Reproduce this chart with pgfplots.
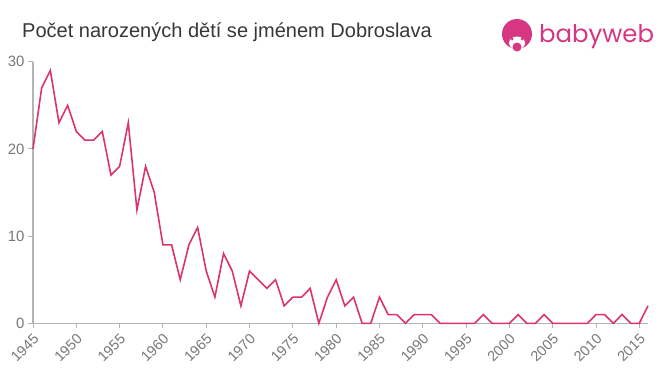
\documentclass[border=0pt]{standalone}
\usepackage{pgfplots}
\pgfplotsset{compat=1.18}
\usepackage{fontspec}
\setmainfont{Liberation Sans}
\newfontfamily\logofont{Poppins}
\definecolor{linec}{RGB}{221,52,104}
\definecolor{logoc}{RGB}{214,54,130}
\definecolor{tickc}{RGB}{120,120,120}
\definecolor{axc}{RGB}{180,180,180}
\definecolor{titc}{RGB}{55,55,55}
\pgfplotstableread{
year val
1945 20
1946 27
1947 29
1948 23
1949 25
1950 22
1951 21
1952 21
1953 22
1954 17
1955 18
1956 23
1957 13
1958 18
1959 15
1960 9
1961 9
1962 5
1963 9
1964 11
1965 6
1966 3
1967 8
1968 6
1969 2
1970 6
1971 5
1972 4
1973 5
1974 2
1975 3
1976 3
1977 4
1978 0
1979 3
1980 5
1981 2
1982 3
1983 0
1984 0
1985 3
1986 1
1987 1
1988 0
1989 1
1990 1
1991 1
1992 0
1993 0
1994 0
1995 0
1996 0
1997 1
1998 0
1999 0
2000 0
2001 1
2002 0
2003 0
2004 1
2005 0
2006 0
2007 0
2008 0
2009 0
2010 1
2011 1
2012 0
2013 1
2014 0
2015 0
2016 2
}\datatab
\begin{document}
\begin{tikzpicture}[x=1bp,y=1bp]
\path[use as bounding box] (0,0) rectangle (660,375);
\node[anchor=base west, text=titc, font=\fontsize{20.1}{22}\selectfont, inner sep=0pt] at (22,338) {Počet narozených dětí se jménem Dobroslava};
% logo
\fill[logoc] (517,341) circle (15);
\fill[white] (517,332) ellipse (8 and 6.5);
\fill[logoc] (517,328) circle (4.5);
\fill[logoc] (512,336) circle (1.5);
\fill[logoc] (522,336) circle (1.5);
\node[anchor=base west, text=logoc, font=\logofont\fontsize{24.5}{28}\selectfont, inner sep=0pt] at (539,332.5) {babyweb};
\begin{axis}[
  at={(33bp,51.7bp)}, anchor=south west,
  scale only axis, width=615bp, height=261.6bp,
  xmin=1945, xmax=2016, ymin=0, ymax=30,
  axis x line*=bottom, axis y line*=left,
  axis line style={axc, line width=1.2pt},
  every outer x axis line/.append style={-}, every outer y axis line/.append style={-},
  xtick={1945,1950,...,2015}, ytick={0,10,20,30},
  tick style={axc, line width=1pt},
  tick align=outside, major tick length=5bp,
  x tick label style={rotate=45, anchor=east, font=\fontsize{14.5}{16}\selectfont, text=tickc, xshift=0bp, yshift=-8bp},
  y tick label style={font=\fontsize{15}{16}\selectfont, text=tickc},
  /pgf/number format/assume math mode=true,
  /pgf/number format/1000 sep={},
  clip=false,
]
\addplot[linec, line width=1.6pt, mark=none] table[x=year,y=val] {\datatab};
\end{axis}
\end{tikzpicture}
\end{document}
